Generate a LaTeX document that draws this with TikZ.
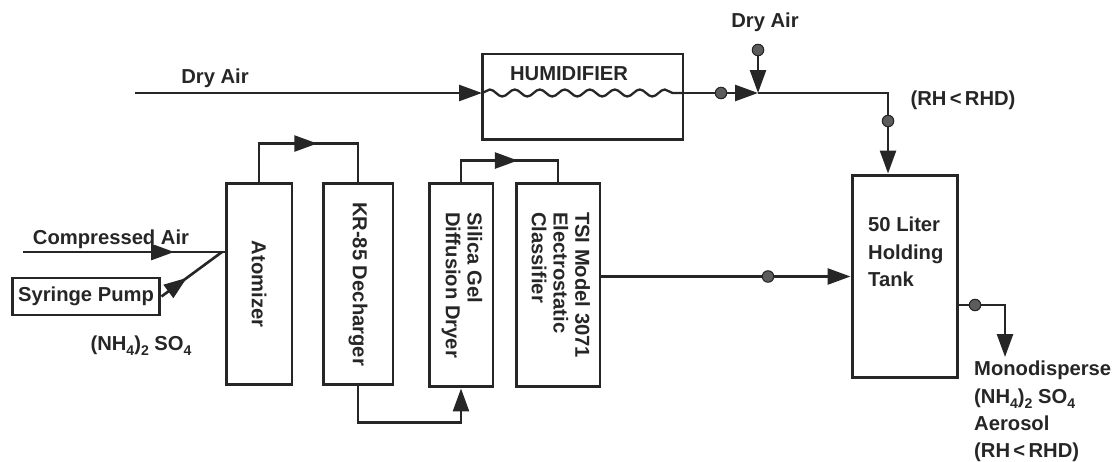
\documentclass[tikz,border=0pt]{standalone}
\usepackage{fontspec}
\setmainfont{Liberation Sans}
\usepackage{xcolor}
\usepackage{tikz}
\usetikzlibrary{arrows.meta, decorations.markings, decorations.pathmorphing}
\definecolor{ink}{RGB}{38, 38, 38}
\newcommand{\chemsub}[1]{\raisebox{-0.5ex}{\footnotesize #1}}
\renewcommand{\arraystretch}{0.8}

\begin{document}
\begin{tikzpicture}[x=0.02cm, y=-0.02cm,
  every node/.style={font=\fontsize{11.5}{15.5}\selectfont\bfseries, text=ink},
  box/.style={draw=ink, line width=1.7pt, inner sep=0pt},
  flow/.style={draw=ink, line width=1.5pt},
  flowtip/.style={-{Triangle[length=0.46cm, width=0.32cm]}},
  midarrow/.style={postaction={decorate}, decoration={markings,
    mark=at position #1 with {\arrow{Triangle[length=0.46cm, width=0.32cm]}}}},
  dot/.style={circle, fill=ink!75, draw=ink, line width=0.6pt, inner sep=0pt, minimum size=0.23cm}]
\useasboundingbox (0,0) rectangle (1114,462);

% Boxes
\node[box, minimum width=4.02cm, minimum height=1.72cm] (hum) at (582.5,97) {};
\node[box, minimum width=1.32cm, minimum height=4.04cm] (atom) at (259,284) {\rotatebox{-90}{Atomizer}};
\node[box, minimum width=1.40cm, minimum height=4.04cm] (dechg) at (358,284) {\rotatebox{-90}{KR-85 Decharger}};
\node[box, minimum width=1.28cm, minimum height=4.08cm] (dryer) at (461,285)
  {\rotatebox{-90}{\begin{tabular}{@{}l@{}}Silica Gel\\Diffusion Dryer\end{tabular}}};
\node[box, minimum width=1.68cm, minimum height=4.08cm] (clsf) at (558,285)
  {\rotatebox{-90}{\begin{tabular}{@{}l@{}}TSI Model 3071\\Electrostatic\\Classifier\end{tabular}}};
\node[box, minimum width=2.10cm, minimum height=4.06cm] (tank) at (904.5,276.5) {};
\node[box, minimum width=2.96cm, minimum height=0.74cm] (pump) at (86,296.5) {Syringe Pump};

% Labels
\node (lbldry) at (215,78) {Dry Air};
\node (lblhum) at (569,74) {HUMIDIFIER};
\node (lbldry2) at (765,22) {Dry Air};
\node (lblrh) at (963,100) {(RH\,<\,RHD)};
\node (lblca) at (111,239) {Compressed Air};
\node (lblsalt) at (141,346) {(NH\chemsub{4})\chemsub{2} SO\chemsub{4}};
\node[anchor=north west, align=left] (lbltank) at (862,211) {50 Liter\\Holding\\Tank};
\node[anchor=north west, align=left] (lblout) at (968,355)
  {Monodisperse\\(NH\chemsub{4})\chemsub{2} SO\chemsub{4}\\Aerosol\\(RH\,<\,RHD)};

% Points on the lines
\coordinate (dryin) at (135,93);
\coordinate (humin) at (482,93);
\coordinate (humout) at (683,93);
\coordinate (junc) at (758,93);
\coordinate (dryin2) at (758,50);
\coordinate (cain) at (23,252);
\coordinate (mix) at (222,252);
\coordinate (aerosol) at (1005,357);

% Humidifier water surface
\draw[flow, line width=1.3pt, decorate, decoration={snake, segment length=0.5cm, amplitude=0.07cm}] (humin) -- (humout);

% Arrows
\draw[flow, flowtip] (dryin) -- (humin);
\draw[flow, flowtip] (humout) -- (junc);
\draw[flow, flowtip] (junc) -| ([xshift=-0.33cm]tank.north);
\draw[flow, flowtip] (dryin2) -- (junc);
\draw[flow, midarrow=0.75] (cain) -- (atom.west |- cain);
\draw[flow, midarrow=0.42] (pump.east) -- (mix);
\draw[flow, midarrow=0.55] (atom.north) -- ++(0,-38) -| (dechg.north);
\draw[flow, flowtip] (dechg.south) -- ++(0,36) -| (dryer.south);
\draw[flow, midarrow=0.56] (dryer.north) -- ++(0,-21) -| (clsf.north);
\draw[flow, flowtip] (clsf.east |- tank.west) -- (tank.west);
\draw[flow, flowtip] ([yshift=-0.57cm]tank.east) -| (aerosol);

% Dots
\node[dot] (d1) at (721,93) {};
\node[dot] (d2) at (dryin2) {};
\node[dot] (d3) at (888,121) {};
\node[dot] (d4) at (768,276.5) {};
\node[dot] (d5) at (975,305) {};
\end{tikzpicture}
\end{document}
